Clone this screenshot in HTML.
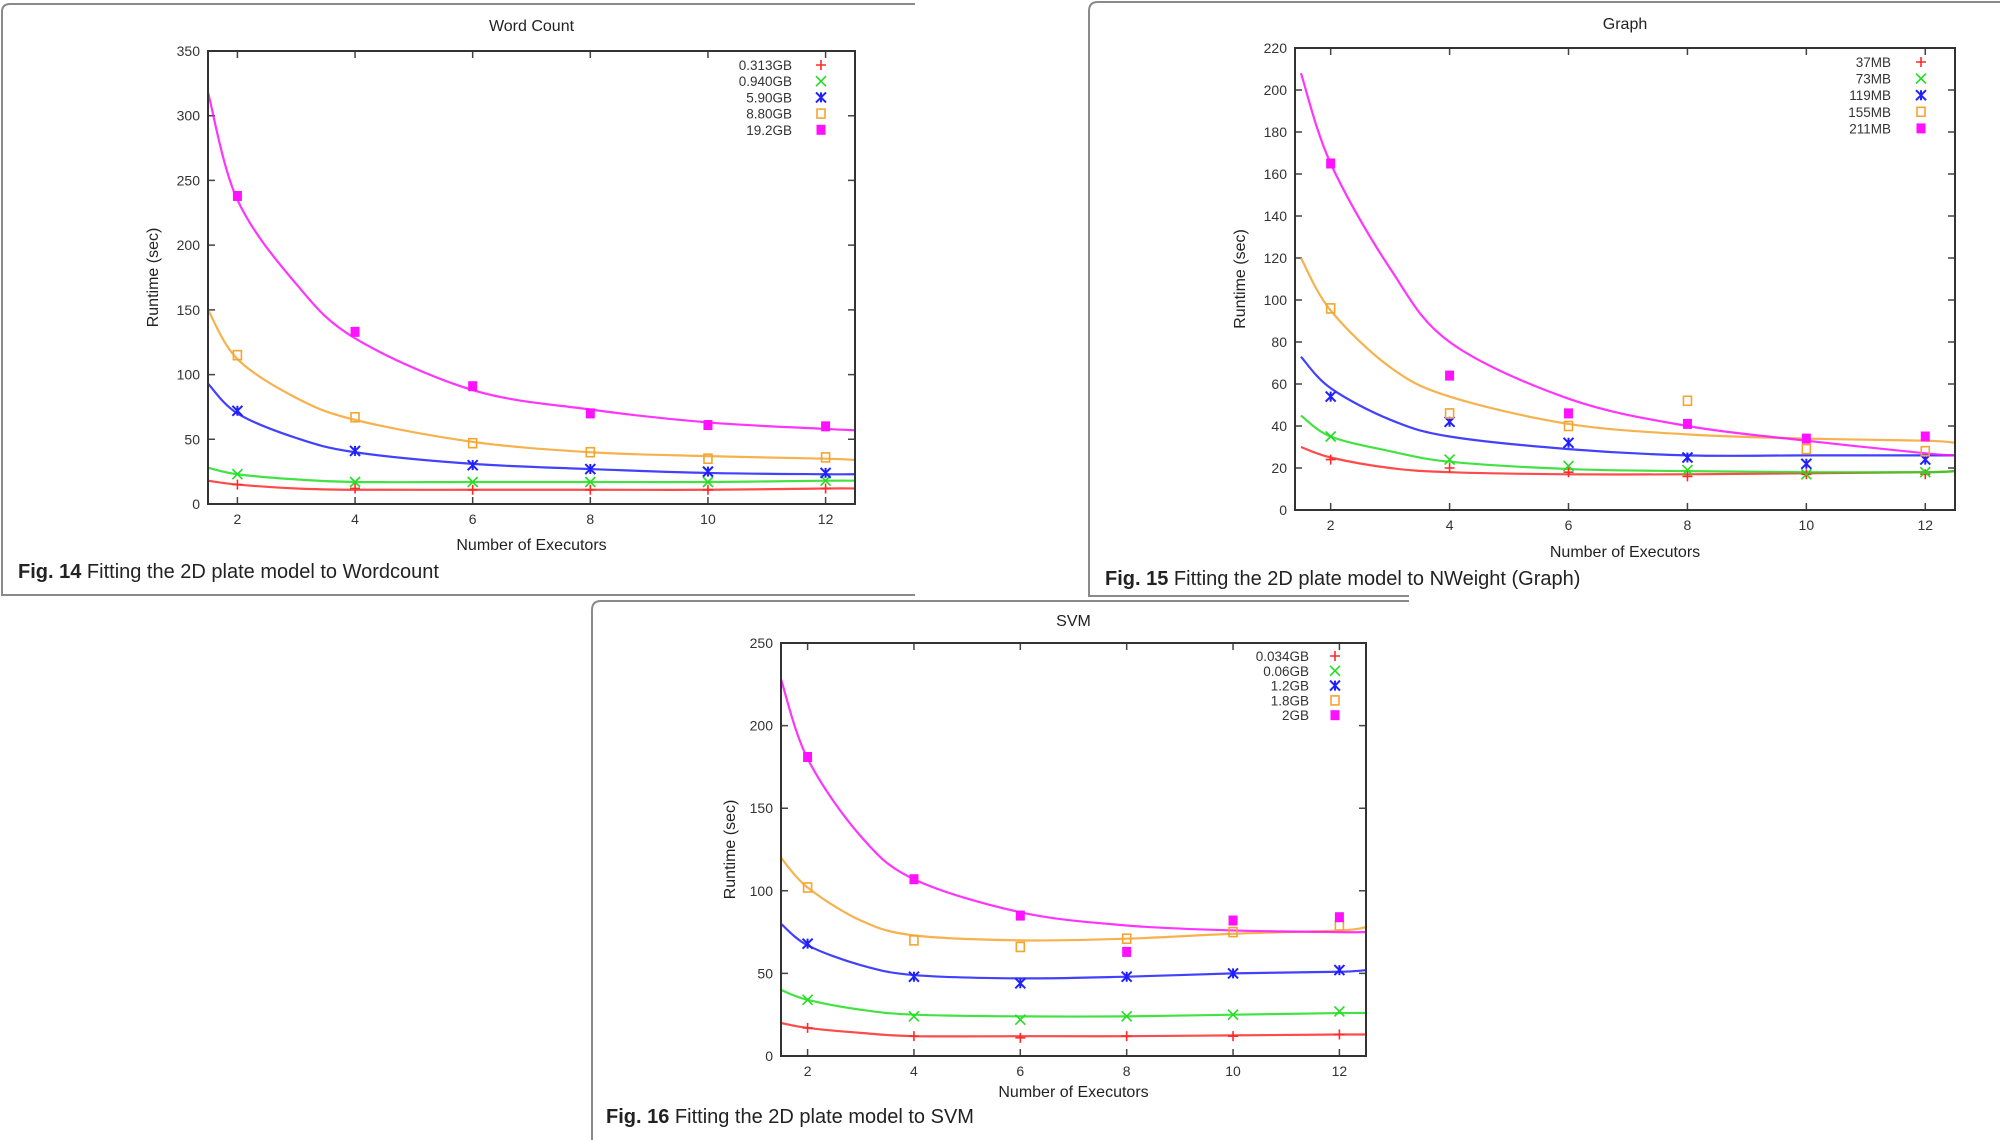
<!DOCTYPE html>
<html><head><meta charset="utf-8"><style>
html,body{margin:0;padding:0;background:#fff;width:2000px;height:1140px;overflow:hidden}
svg{display:block;font-family:"Liberation Sans","DejaVu Sans",sans-serif}
</style></head><body>
<svg id="svg" width="2000" height="1140" viewBox="0 0 2000 1140">
<g fill="none" stroke="#8a8a8a" stroke-width="2">
<path d="M915,4 L10,4 Q2,4 2,12 L2,595 L915,595"/>
<path d="M2000,2 L1098,2 Q1089,2 1089,11 L1089,596 L1409,596"/>
<path d="M1409,601 L601,601 Q592,601 592,610 L592,1140"/>
</g>
<text x="18" y="578" font-size="20" fill="#222"><tspan font-weight="bold">Fig. 14</tspan>  Fitting the 2D plate model to Wordcount</text>
<text x="1105" y="585" font-size="20" fill="#222"><tspan font-weight="bold">Fig. 15</tspan>  Fitting the 2D plate model to NWeight (Graph)</text>
<text x="606" y="1123" font-size="20" fill="#222"><tspan font-weight="bold">Fig. 16</tspan>  Fitting the 2D plate model to SVM</text>
</svg>
<script>
// shared x categories
const executors = [2, 4, 6, 8, 10, 12];
const fitX = [1.5, 2, 3, 4, 6, 8, 10, 12, 12.5];

// Word Count
const wcLabels = ["0.313GB", "0.940GB", "5.90GB", "8.80GB", "19.2GB"];
const wcRed = [15, 12, 11, 11, 11, 12];
const wcGreen = [23, 17, 17, 17, 17, 18];
const wcBlue = [72, 41, 30, 27, 25, 24];
const wcOrange = [115, 67, 47, 40, 35, 36];
const wcMagenta = [238, 133, 91, 70, 61, 60];
const wcFitRed = [18, 15, 12, 11, 11, 11, 11, 12, 12];
const wcFitGreen = [28, 23, 19, 17, 17, 17, 17, 18, 18];
const wcFitBlue = [93, 70, 51, 40, 31, 27, 24, 23, 23];
const wcFitOrange = [150, 112, 82, 65, 48, 40, 37, 35, 34];
const wcFitMagenta = [318, 235, 170, 128, 88, 73, 63, 58, 57];
const wcTicks = [0, 50, 100, 150, 200, 250, 300, 350];

// Graph
const grLabels = ["37MB", "73MB", "119MB", "155MB", "211MB"];
const grRed = [24, 20, 18, 16, 17, 17];
const grGreen = [35, 24, 21, 19, 17, 18];
const grBlue = [54, 42, 32, 25, 22, 24];
const grOrange = [96, 46, 40, 52, 29, 28];
const grMagenta = [165, 64, 46, 41, 34, 35];
const grFitRed = [30, 25, 20, 18, 17, 17, 17.5, 18, 18.5];
const grFitGreen = [45, 35, 28, 23, 19.5, 18.5, 18, 18, 18.5];
const grFitBlue = [73, 58, 43, 35, 29, 26, 26, 26, 26];
const grFitOrange = [120, 95, 68, 54, 41, 36, 34, 33, 32];
const grFitMagenta = [208, 165, 115, 80, 53, 40, 33, 27, 26];
const grTicks = [0, 20, 40, 60, 80, 100, 120, 140, 160, 180, 200, 220];

// SVM
const svLabels = ["0.034GB", "0.06GB", "1.2GB", "1.8GB", "2GB"];
const svRed = [17, 12, 11, 12, 12, 13];
const svGreen = [34, 24, 22, 24, 25, 27];
const svBlue = [68, 48, 44, 48, 50, 52];
const svOrange = [102, 70, 66, 71, 75, 79];
const svMagenta = [181, 107, 85, 63, 82, 84];
const svFitRed = [20, 17, 14, 12, 12, 12, 12.5, 13, 13];
const svFitGreen = [40, 34, 28, 25, 24, 24, 25, 26, 26];
const svFitBlue = [80, 67, 55, 49, 47, 48, 50, 51, 52];
const svFitOrange = [120, 102, 82, 73, 70, 71, 74, 76, 78];
const svFitMagenta = [228, 180, 133, 107, 87, 79, 76, 75, 75];
const svTicks = [0, 50, 100, 150, 200, 250];

const colors = ["#ff2a2a", "#22dd22", "#2020ff", "#f5a430", "#ff10ff"];
const shapes = ["plus", "cross", "star", "square", "fsquare"];
const NS = "http://www.w3.org/2000/svg";
const svg = document.getElementById("svg");

function mk(tag, attrs, parent) {
  const e = document.createElementNS(NS, tag);
  for (const k in attrs) e.setAttribute(k, attrs[k]);
  parent.appendChild(e);
  return e;
}

function marker(g, shape, x, y, c) {
  const s = 5;
  let e;
  if (shape === "plus") {
    e = mk("path", {d: `M${x-s},${y}H${x+s}M${x},${y-s}V${y+s}`, stroke: c, "stroke-width": 1.6, fill: "none"}, g);
  } else if (shape === "cross") {
    e = mk("path", {d: `M${x-s},${y-s}L${x+s},${y+s}M${x-s},${y+s}L${x+s},${y-s}`, stroke: c, "stroke-width": 1.6, fill: "none"}, g);
  } else if (shape === "star") {
    e = mk("path", {d: `M${x-s},${y-s}L${x+s},${y+s}M${x-s},${y+s}L${x+s},${y-s}M${x},${y-s}V${y+s}`, stroke: c, "stroke-width": 2, fill: "none"}, g);
  } else if (shape === "square") {
    e = mk("rect", {x: x-4, y: y-4.5, width: 8, height: 9, stroke: c, "stroke-width": 1.6, fill: "none"}, g);
  } else {
    e = mk("rect", {x: x-4.5, y: y-5, width: 9, height: 10, fill: c}, g);
  }
  
  
}

function smoothPath(pts) {
  let d = `M${pts[0][0]},${pts[0][1]}`;
  for (let i = 0; i < pts.length - 1; i++) {
    const p0 = pts[Math.max(0, i-1)], p1 = pts[i], p2 = pts[i+1], p3 = pts[Math.min(pts.length-1, i+2)];
    const c1x = p1[0] + (p2[0]-p0[0])/6, c1y = p1[1] + (p2[1]-p0[1])/6;
    const c2x = p2[0] - (p3[0]-p1[0])/6, c2y = p2[1] - (p3[1]-p1[1])/6;
    d += `C${c1x},${c1y} ${c2x},${c2y} ${p2[0]},${p2[1]}`;
  }
  return d;
}

let clipId = 0;
function drawChart(cfg) {
  const g = mk("g", {}, svg);
  
  
  const {L, R, T, B, xmin, xmax, ymax} = cfg;
  const sx = v => L + (v - xmin) / (xmax - xmin) * (R - L);
  const sy = v => B - v / ymax * (B - T);

  const title = mk("text", {x: (L+R)/2, y: cfg.titleY, "text-anchor": "middle", "font-size": 16, fill: "#222"}, g);
  title.textContent = cfg.title;
  
  

  // y ticks
  for (const t of cfg.ticks) {
    const y = sy(t);
    const tk = mk("path", {d: `M${L},${y}h7M${R},${y}h-7`, stroke: "#444", "stroke-width": 1.5}, g);
    
    
    const lb = mk("text", {x: L - 8, y: y + 5, "text-anchor": "end", "font-size": 14, fill: "#333"}, g);
    lb.textContent = t;
    
    
  }
  for (const t of executors) {
    const x = sx(t);
    const tk = mk("path", {d: `M${x},${B}v-7M${x},${T}v7`, stroke: "#444", "stroke-width": 1.5}, g);
    
    
    const lb = mk("text", {x: x, y: B + 20, "text-anchor": "middle", "font-size": 14, fill: "#333"}, g);
    lb.textContent = t;
    
    
  }
  const xl = mk("text", {x: (L+R)/2, y: cfg.xLabelY, "text-anchor": "middle", "font-size": 16, fill: "#222"}, g);
  xl.textContent = "Number of Executors";
  
  
  const yl = mk("text", {x: 0, y: 0, "text-anchor": "middle", "font-size": 16, fill: "#222", transform: `translate(${cfg.yLabelX},${(T+B)/2}) rotate(-90)`}, g);
  yl.textContent = "Runtime (sec)";
  
  

  const id = "clip" + (clipId++);
  const cp = mk("clipPath", {id: id}, g);
  mk("rect", {x: L, y: T, width: R-L, height: B-T}, cp);
  const cg = mk("g", {"clip-path": `url(#${id})`}, g);
  
  

  cfg.fits.forEach((arr, i) => {
    const pts = fitX.map((xv, j) => [sx(xv), sy(arr[j])]);
    const p = mk("path", {d: smoothPath(pts), fill: "none", stroke: colors[i], "stroke-width": 2.2, "stroke-opacity": 0.85}, cg);
    
    
  });
  cfg.series.forEach((arr, i) => {
    const sg = mk("g", {}, cg);
    
    
    arr.forEach((v, j) => marker(sg, shapes[i], sx(executors[j]), sy(v), colors[i]));
  });

  const frame = mk("rect", {x: L, y: T, width: R-L, height: B-T, fill: "none", stroke: "#333", "stroke-width": 2}, g);
  
  

  // legend
  cfg.labels.forEach((lab, i) => {
    const y = cfg.legY + i * cfg.legDy;
    const lg = mk("g", {}, g);
    
    
    const t = mk("text", {x: cfg.legTextX, y: y + 5, "text-anchor": "end", "font-size": 13.5, fill: "#333"}, lg);
    t.textContent = lab;
    marker(lg, shapes[i], cfg.legMarkX, y, colors[i]);
  });
}

drawChart({name: "word-count-chart", title: "Word Count", L: 208, R: 855, T: 51, B: 504, xmin: 1.5, xmax: 12.5, ymax: 350,
  titleY: 31, xLabelY: 550, yLabelX: 158, ticks: wcTicks, labels: wcLabels,
  series: [wcRed, wcGreen, wcBlue, wcOrange, wcMagenta],
  fits: [wcFitRed, wcFitGreen, wcFitBlue, wcFitOrange, wcFitMagenta],
  legY: 65, legDy: 16.2, legTextX: 792, legMarkX: 821});

drawChart({name: "graph-chart", title: "Graph", L: 1295, R: 1955, T: 48, B: 510, xmin: 1.4, xmax: 12.5, ymax: 220,
  titleY: 29, xLabelY: 557, yLabelX: 1245, ticks: grTicks, labels: grLabels,
  series: [grRed, grGreen, grBlue, grOrange, grMagenta],
  fits: [grFitRed, grFitGreen, grFitBlue, grFitOrange, grFitMagenta],
  legY: 62, legDy: 16.6, legTextX: 1891, legMarkX: 1921});

drawChart({name: "svm-chart", title: "SVM", L: 781, R: 1366, T: 643, B: 1056, xmin: 1.5, xmax: 12.5, ymax: 250,
  titleY: 626, xLabelY: 1097, yLabelX: 735, ticks: svTicks, labels: svLabels,
  series: [svRed, svGreen, svBlue, svOrange, svMagenta],
  fits: [svFitRed, svFitGreen, svFitBlue, svFitOrange, svFitMagenta],
  legY: 656, legDy: 14.8, legTextX: 1309, legMarkX: 1335});
</script>
</body></html>
